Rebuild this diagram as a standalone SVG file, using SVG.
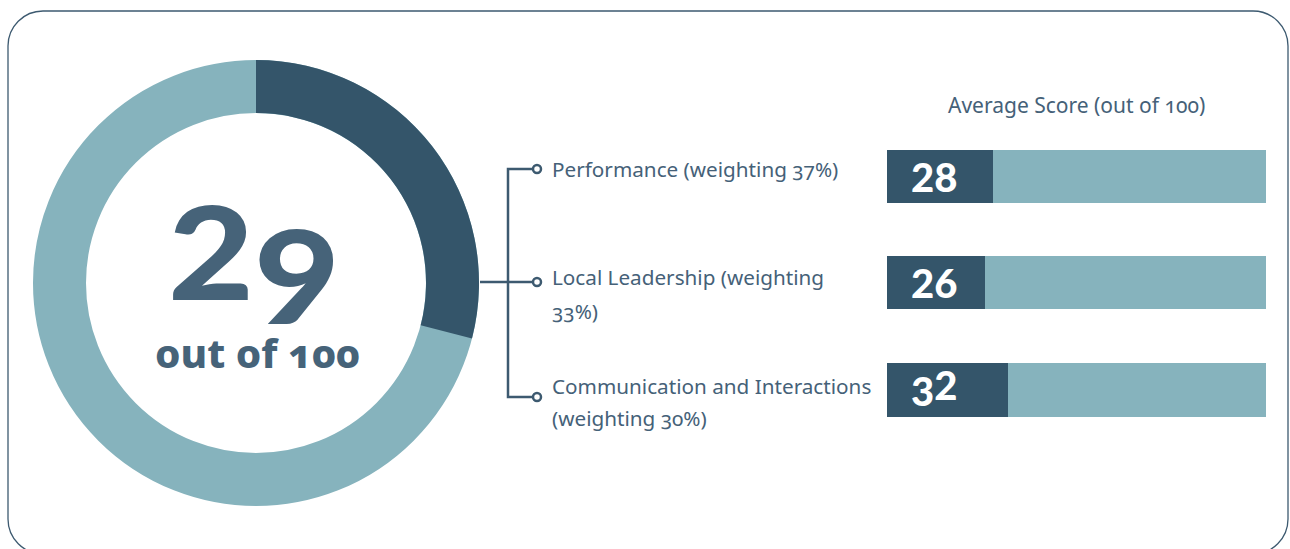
<svg xmlns="http://www.w3.org/2000/svg" width="1290" height="549" viewBox="0 0 1290 549">
  <style>
    .lbl { font-family: "Noto Sans", "Open Sans", sans-serif; font-size: 20.7px; fill: #456178; font-variant-numeric: oldstyle-nums; }
    .ttl { font-family: "Noto Sans", "Open Sans", sans-serif; font-size: 21px; fill: #456178; font-variant-numeric: oldstyle-nums; }
    .big { font-family: Lato, "Open Sans", sans-serif; font-weight: 900; fill: #466379; }
    .sub { font-family: "Noto Sans", "Open Sans", sans-serif; font-weight: 800; fill: #466379; font-variant-numeric: oldstyle-nums; }
    .barnum { font-family: Lato, "Open Sans", sans-serif; font-weight: 900; font-size: 40px; fill: #ffffff; }
    .dark { fill: #34556a; }
    .light { fill: #86b3bd; }
    .conn { stroke: #3d5a70; stroke-width: 2.5; fill: none; }
    .dot { stroke: #3d5a70; stroke-width: 2.5; fill: #ffffff; }
  </style>
  <rect x="0" y="0" width="1290" height="549" fill="#ffffff"/>
  <rect id="frame" x="8" y="11" width="1280" height="543" rx="35" ry="35" fill="none" stroke="#3d5a70" stroke-width="1.3"/>

  <g id="donut">
    <circle cx="256" cy="283" r="196.5" fill="none" stroke="#86b3bd" stroke-width="53"/>
    <path class="dark" d="M256,60 A223,223 0 0 1 472.0,338.5 L420.7,325.3 A170,170 0 0 0 256,113 Z"/>
    <text class="big" x="168" y="300" font-size="130" textLength="172" lengthAdjust="spacingAndGlyphs">2<tspan dy="24">9</tspan></text>
    <text class="sub" x="155" y="368" font-size="40" textLength="205" lengthAdjust="spacingAndGlyphs">out of 100</text>
  </g>

  <g id="connectors">
    <line class="conn" x1="480" y1="282" x2="533" y2="282"/>
    <polyline class="conn" points="533,169 508,169 508,397 533,397"/>
    <circle class="dot" cx="537" cy="169" r="4"/>
    <circle class="dot" cx="537" cy="282" r="4"/>
    <circle class="dot" cx="537" cy="397" r="4"/>
  </g>

  <g id="label-performance">
    <text class="lbl" x="552" y="177">Performance (weighting 37%)</text>
  </g>
  <g id="label-leadership">
    <text class="lbl" x="552" y="285">Local Leadership (weighting</text>
    <text class="lbl" x="552" y="319">33%)</text>
  </g>
  <g id="label-communication">
    <text class="lbl" x="552" y="394">Communication and Interactions</text>
    <text class="lbl" x="552" y="426">(weighting 30%)</text>
  </g>

  <g id="title">
    <text class="ttl" x="948" y="113">Average Score (out of 100)</text>
  </g>

  <g id="bar-performance">
    <rect class="light" x="887" y="150" width="379" height="53"/>
    <rect class="dark" x="887" y="150" width="106" height="53"/>
    <text class="barnum" x="911" y="192">28</text>
  </g>
  <g id="bar-leadership">
    <rect class="light" x="887" y="256" width="379" height="53"/>
    <rect class="dark" x="887" y="256" width="98" height="53"/>
    <text class="barnum" x="911" y="298">26</text>
  </g>
  <g id="bar-communication">
    <rect class="light" x="887" y="363" width="379" height="54"/>
    <rect class="dark" x="887" y="363" width="121" height="54"/>
    <text class="barnum" x="911" y="400"><tspan dy="6">3</tspan><tspan dy="-6">2</tspan></text>
  </g>
</svg>
